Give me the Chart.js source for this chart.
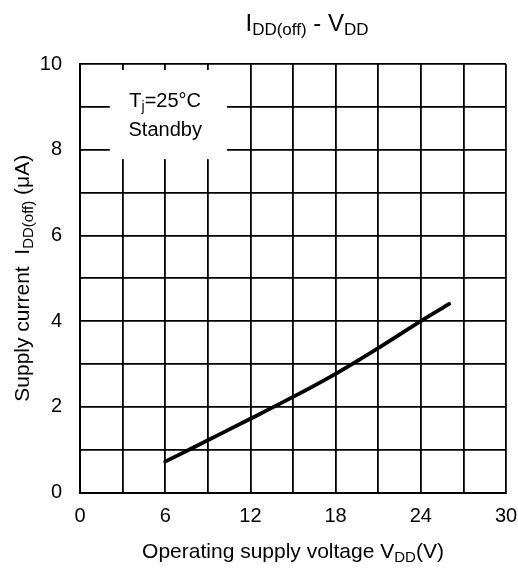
<!DOCTYPE html>
<html>
<head>
<meta charset="utf-8">
<script src="https://cdn.jsdelivr.net/npm/chart.js@4.4.1/dist/chart.umd.min.js"></script>
<style>
  html, body { margin: 0; padding: 0; background: #fff; }
  #wrap { width: 518px; height: 570px; position: relative; }
</style>
</head>
<body>
<div id="wrap"><canvas id="chart"></canvas></div>
<script>
// Dados: I_DD(off) em função de V_DD
const vdd = [6, 9, 12, 15, 18, 21, 24, 26];
const iddOff = [0.72, 1.22, 1.72, 2.23, 2.77, 3.37, 4.0, 4.4];
const xLabels = [0, 6, 12, 18, 24, 30];
const yLabels = [0, 2, 4, 6, 8, 10];

const FONT = '"Liberation Sans", Arial, Helvetica, sans-serif';

// Texto com subscrito: partes [texto, subscrito?]
function larguraRica(ctx, partes, tam, tamSub) {
  let w = 0;
  partes.forEach(([t, sub]) => {
    ctx.font = (sub ? tamSub : tam) + 'px ' + FONT;
    w += ctx.measureText(t).width;
  });
  return w;
}

function desenhaRico(ctx, partes, cx, y, tam, tamSub, desloc) {
  let x = cx - larguraRica(ctx, partes, tam, tamSub) / 2;
  ctx.textAlign = 'left';
  ctx.textBaseline = 'alphabetic';
  partes.forEach(([t, sub]) => {
    ctx.font = (sub ? tamSub : tam) + 'px ' + FONT;
    ctx.fillText(t, x, sub ? y + desloc : y);
    x += ctx.measureText(t).width;
  });
}

const textosPlugin = {
  id: 'textos',
  beforeDatasetsDraw(chart) {
    const { ctx, scales: { x, y } } = chart;
    // Caixa branca da legenda interna
    const x1 = x.getPixelForValue(2.1), x2 = x.getPixelForValue(10.35);
    const y1 = y.getPixelForValue(9.86), y2 = y.getPixelForValue(7.78);
    ctx.save();
    ctx.fillStyle = '#fff';
    ctx.fillRect(x1, y1, x2 - x1, y2 - y1);
    ctx.fillStyle = '#000';
    const cx = x.getPixelForValue(6);
    const base = y.getPixelForValue(9.0);
    desenhaRico(ctx, [['T', false], ['j', true], ['=25°C', false]], cx, base, 20, 14, 4);
    ctx.font = '20px ' + FONT;
    ctx.textAlign = 'center';
    ctx.fillText('Standby', cx, base + 29);
    ctx.restore();
  },
  afterDraw(chart) {
    const { ctx, chartArea: a } = chart;
    ctx.save();
    ctx.fillStyle = '#000';
    // Título
    desenhaRico(ctx, [['I', false], ['DD(off)', true], [' - V', false], ['DD', true]],
      (a.left + a.right) / 2 + 14, 31, 24, 17, 4);
    // Título do eixo x
    desenhaRico(ctx, [['Operating supply voltage V', false], ['DD', true], ['(V)', false]],
      (a.left + a.right) / 2, 558, 21, 15, 4);
    // Título do eixo y (rotacionado)
    ctx.translate(29, (a.top + a.bottom) / 2);
    ctx.rotate(-Math.PI / 2);
    desenhaRico(ctx, [['Supply current  I', false], ['DD(off)', true], [' (μA)', false]],
      0, 0, 21, 15, 4);
    ctx.restore();
  }
};

const ctx = document.getElementById('chart').getContext('2d');
const myChart = new Chart(ctx, {
  type: 'line',
  data: {
    datasets: [{
      data: vdd.map((v, i) => ({ x: v, y: iddOff[i] })),
      borderColor: '#000',
      borderWidth: 3.8,
      borderCapStyle: 'round',
      pointRadius: 0,
      cubicInterpolationMode: 'monotone',
      fill: false
    }]
  },
  options: {
    responsive: true,
    maintainAspectRatio: false,
    animation: false,
    layout: { padding: { top: 64, right: 0, left: 0, bottom: 0 } },
    plugins: { legend: { display: false }, tooltip: { enabled: false } },
    scales: {
      x: {
        type: 'linear',
        min: 0, max: 30,
        afterFit(s) { s.height = 77.5; s.paddingRight = 12; },
        grid: { color: '#000', lineWidth: 1.8, drawTicks: false },
        border: { color: '#000', width: 2 },
        ticks: {
          stepSize: 3,
          padding: 12,
          color: '#000',
          font: { family: FONT, size: 20 },
          callback: (v) => xLabels.includes(v) ? String(v) : ''
        }
      },
      y: {
        min: 0, max: 10,
        afterFit(s) { s.width = 80; },
        grid: { color: '#000', lineWidth: 1.8, drawTicks: false },
        border: { color: '#000', width: 2 },
        ticks: {
          stepSize: 1,
          padding: 18,
          color: '#000',
          font: { family: FONT, size: 20 },
          callback: (v) => yLabels.includes(v) ? String(v) : ''
        }
      }
    }
  },
  plugins: [textosPlugin]
});
</script>
</body>
</html>
